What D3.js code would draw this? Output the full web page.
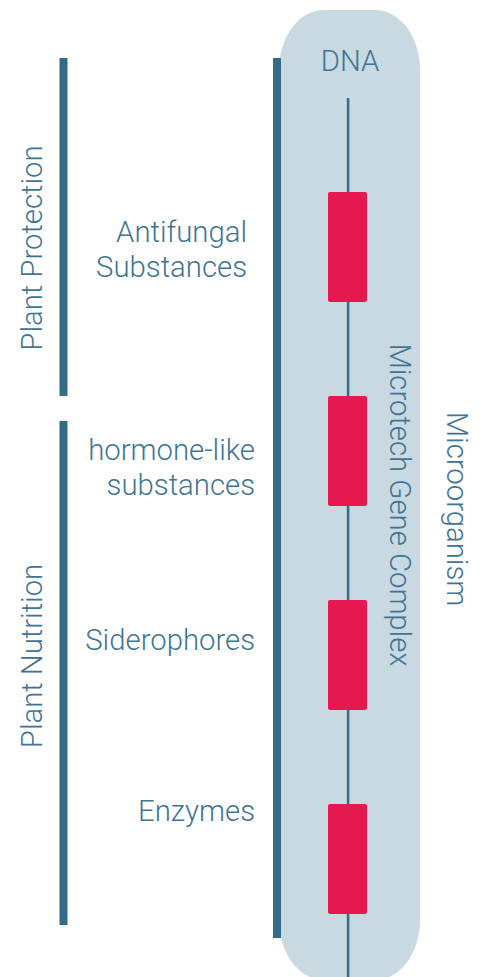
<!DOCTYPE html>
<html>
<head>
<meta charset="utf-8">
<script src="https://cdn.jsdelivr.net/npm/d3@7"></script>
<style>
	body { margin: 0; background: #fff; }
	text { font-family: Roboto, 'Open Sans', sans-serif; font-weight: 300; fill: #3f7594; }
</style>
</head>
<body>
<div class="graphic"></div>
<script>
// genes on the DNA strand, top to bottom
const genes = ['antifungal', 'hormone', 'siderophores', 'enzymes']
const geneLabels = [
	['Antifungal', 'Substances'],
	['hormone-like', 'substances'],
	['Siderophores'],
	['Enzymes']
]
// functional groups and the genes they cover
const groups = ['Plant Protection', 'Plant Nutrition']
const groupGenes = [['antifungal'], ['hormone', 'siderophores', 'enzymes']]
const strandLabel = 'DNA'
const complexLabel = 'Microtech Gene Complex'
const organismLabel = 'Microorganism'

const WIDTH = 483
const HEIGHT = 977
const FONT_SIZE = 29.3
const LINE_HEIGHT = 35
const BAR_W = 8
const COLORS = { bar: '#336b88', cell: '#c8d9e2', gene: '#e5194f' }

// first-line baseline relative to the gene centre (the artwork does not centre them)
const LABEL_NUDGE = [-5, 9, -5, -38]
const LABEL_RIGHT = [247, 255, 255, 255]

const svg = d3.select('.graphic').append('svg')
	.attr('width', WIDTH)
	.attr('height', HEIGHT)

const y = d3.scaleBand()
	.domain(genes)
	.range([145, 145 + 4 * 204])
	.paddingInner(0.46)
	.paddingOuter(0.23)

const x = d3.scaleLinear().domain([0, 1]).range([279, 420])
const strandX = x(0.49)

// cell capsule
svg.append('rect')
	.attr('x', x(0))
	.attr('y', 10)
	.attr('width', x(1) - x(0))
	.attr('height', 970)
	.attr('rx', 45)
	.attr('ry', 60)
	.attr('fill', COLORS.cell)

// gene complex bar
svg.append('rect')
	.attr('x', 273)
	.attr('y', 58)
	.attr('width', BAR_W)
	.attr('height', 938 - 58)
	.attr('fill', COLORS.bar)

// group bars
const groupExtent = (i) => {
	const gs = groupGenes[i]
	const last = y(gs[gs.length - 1])
	if (i === 0) return [58, last + y.step()]
	return [y(gs[0]) + 25, last + y.bandwidth() + 11]
}

const group = svg.selectAll('.group')
	.data(groups)
	.enter().append('g')
		.attr('class', 'group')

group.append('rect')
	.attr('x', 59.5)
	.attr('y', (d, i) => groupExtent(i)[0])
	.attr('width', BAR_W)
	.attr('height', (d, i) => groupExtent(i)[1] - groupExtent(i)[0])
	.attr('fill', COLORS.bar)

group.append('text')
	.text(d => d)
	.attr('text-anchor', 'middle')
	.attr('font-size', FONT_SIZE)
	.attr('transform', (d, i) => {
		const cy = i === 0 ? 248 : 656
		return `translate(42,${cy}) rotate(-90)`
	})

// DNA strand
svg.append('line')
	.attr('x1', strandX)
	.attr('x2', strandX)
	.attr('y1', 98)
	.attr('y2', HEIGHT)
	.attr('stroke', COLORS.bar)
	.attr('stroke-width', 2.5)

svg.append('text')
	.text(strandLabel)
	.attr('x', strandX + 2)
	.attr('y', 71)
	.attr('text-anchor', 'middle')
	.attr('font-size', FONT_SIZE)

// genes
const gene = svg.selectAll('.gene')
	.data(genes)
	.enter().append('g')
		.attr('class', 'gene')

gene.append('rect')
	.attr('x', 328)
	.attr('y', d => y(d))
	.attr('width', 39)
	.attr('height', y.bandwidth())
	.attr('rx', 2)
	.attr('fill', COLORS.gene)

gene.append('text')
	.attr('text-anchor', 'end')
	.attr('font-size', FONT_SIZE)
	.each(function (d, i) {
		const base = y(d) + y.bandwidth() / 2 + LABEL_NUDGE[i]
		d3.select(this).selectAll('tspan')
			.data(geneLabels[i])
			.enter().append('tspan')
				.attr('x', LABEL_RIGHT[i])
				.attr('y', (l, j) => base + j * LINE_HEIGHT)
				.text(l => l)
	})

// side labels
svg.append('text')
	.text(complexLabel)
	.attr('text-anchor', 'middle')
	.attr('font-size', FONT_SIZE)
	.attr('transform', 'translate(390,505) rotate(90)')

svg.append('text')
	.text(organismLabel)
	.attr('text-anchor', 'middle')
	.attr('font-size', FONT_SIZE)
	.attr('transform', 'translate(447,509) rotate(90)')
</script>
</body>
</html>
